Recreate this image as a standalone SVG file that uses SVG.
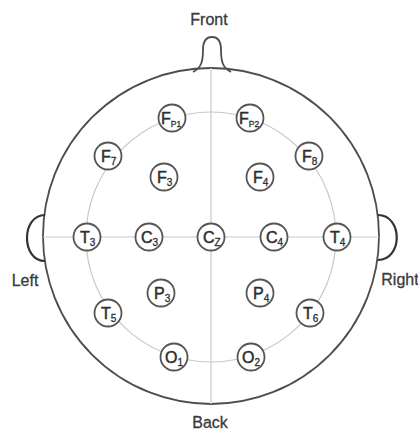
<svg xmlns="http://www.w3.org/2000/svg" width="418" height="434" viewBox="0 0 418 434">
  <style>
    .guide { fill: none; stroke: #c8c8c8; stroke-width: 1.2; }
    .head { fill: none; stroke: #4d4d4d; stroke-width: 1.8; }
    .ear { fill: none; stroke: #333; stroke-width: 2.2; }
    .el circle { fill: #fff; stroke: #555; stroke-width: 1.8; }
    .lbl { font-family: "Liberation Sans", Arial, sans-serif; font-size: 16px; fill: #3a3a3a; stroke: #3a3a3a; stroke-width: 0.3; text-anchor: middle; }
    .el text { font-family: "Liberation Sans", Arial, sans-serif; fill: #2e2e2e; stroke: #2e2e2e; stroke-width: 0.5; font-size: 16px; }
    .el .sub { font-size: 10px; stroke-width: 0.3; }
    .el .sub2 { font-size: 8.5px; stroke-width: 0.3; }
  </style>

  <!-- head outline, nose and ears -->
  <g id="head">
    <circle class="head" cx="211" cy="236" r="168"/>
    <path class="head" d="M 193 72 C 201 68, 203 62, 203 50 C 203 41, 206 37, 212 37 C 218 37, 221 41, 221 50 C 221 62, 223 68, 231 72"/>
    <path class="ear" d="M 45 215 C 21 215, 21 261, 45 261"/>
    <path class="ear" d="M 378 215 C 403 215, 403 260, 378 260"/>
  </g>

  <!-- guide lines -->
  <g id="connectors">
    <line class="guide" x1="211" y1="68" x2="211" y2="404"/>
    <line class="guide" x1="43" y1="237" x2="379" y2="237"/>
    <circle class="guide" cx="211" cy="237" r="125"/>
  </g>

  <!-- direction labels -->
  <g id="labels">
    <text class="lbl" x="209" y="25">Front</text>
    <text class="lbl" x="210" y="428">Back</text>
    <text class="lbl" x="25" y="286">Left</text>
    <text class="lbl" x="400" y="285">Right</text>
  </g>

  <!-- electrodes -->
  <g id="Fp1" class="el"><circle cx="172" cy="118" r="13.5"/><text x="161" y="124">F<tspan class="sub2" dy="3">P1</tspan></text></g>
  <g id="Fp2" class="el"><circle cx="250" cy="118" r="13.5"/><text x="239" y="124">F<tspan class="sub2" dy="3">P2</tspan></text></g>
  <g id="F7" class="el"><circle cx="108" cy="156" r="13.5"/><text x="101" y="162">F<tspan class="sub" dy="3">7</tspan></text></g>
  <g id="F8" class="el"><circle cx="309" cy="156" r="13.5"/><text x="302" y="162">F<tspan class="sub" dy="3">8</tspan></text></g>
  <g id="F3" class="el"><circle cx="164" cy="177" r="13.5"/><text x="157" y="183">F<tspan class="sub" dy="3">3</tspan></text></g>
  <g id="F4" class="el"><circle cx="260" cy="177" r="13.5"/><text x="253" y="183">F<tspan class="sub" dy="3">4</tspan></text></g>
  <g id="T3" class="el"><circle cx="87" cy="237" r="13.5"/><text x="80" y="243">T<tspan class="sub" dy="3">3</tspan></text></g>
  <g id="C3" class="el"><circle cx="149" cy="237" r="13.5"/><text x="141" y="243">C<tspan class="sub" dy="3">3</tspan></text></g>
  <g id="Cz" class="el"><circle cx="211" cy="237" r="13.5"/><text x="203" y="243">C<tspan class="sub" dy="3">Z</tspan></text></g>
  <g id="C4" class="el"><circle cx="274" cy="237" r="13.5"/><text x="266" y="243">C<tspan class="sub" dy="3">4</tspan></text></g>
  <g id="T4" class="el"><circle cx="337" cy="237" r="13.5"/><text x="330" y="243">T<tspan class="sub" dy="3">4</tspan></text></g>
  <g id="P3" class="el"><circle cx="161" cy="293" r="13.5"/><text x="154" y="299">P<tspan class="sub" dy="3">3</tspan></text></g>
  <g id="P4" class="el"><circle cx="260" cy="293" r="13.5"/><text x="253" y="299">P<tspan class="sub" dy="3">4</tspan></text></g>
  <g id="T5" class="el"><circle cx="108" cy="313" r="13.5"/><text x="101" y="319">T<tspan class="sub" dy="3">5</tspan></text></g>
  <g id="T6" class="el"><circle cx="310" cy="313" r="13.5"/><text x="303" y="319">T<tspan class="sub" dy="3">6</tspan></text></g>
  <g id="O1" class="el"><circle cx="174" cy="357" r="13.5"/><text x="165" y="363">O<tspan class="sub" dy="3">1</tspan></text></g>
  <g id="O2" class="el"><circle cx="251" cy="357" r="13.5"/><text x="242" y="363">O<tspan class="sub" dy="3">2</tspan></text></g>
</svg>
